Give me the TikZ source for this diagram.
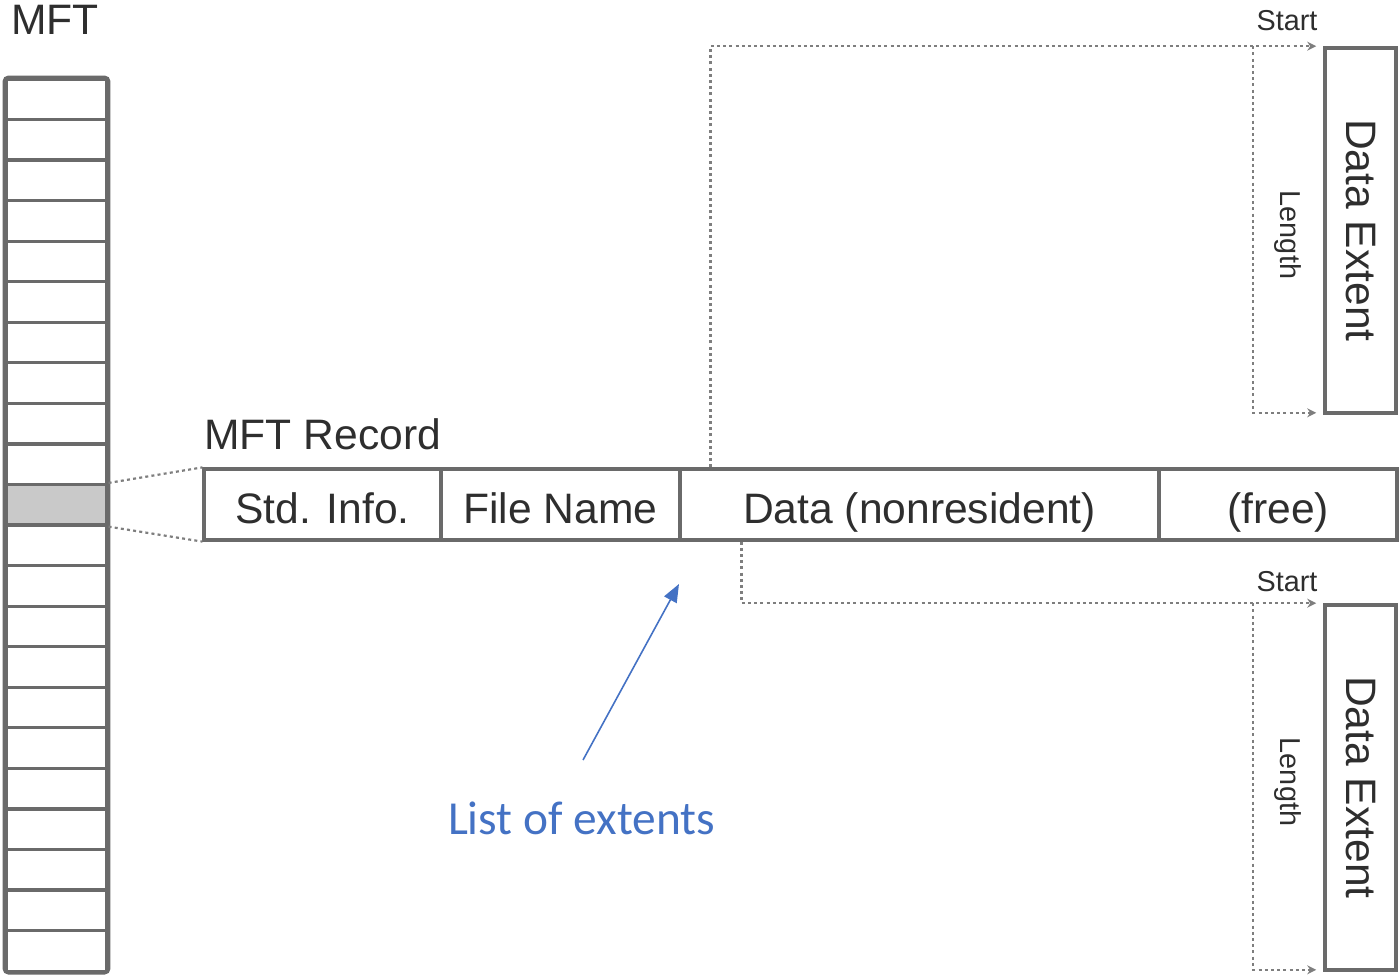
\documentclass[tikz,border=0pt]{standalone}
\usepackage{fontspec}
\setmainfont{Liberation Sans}
\newfontfamily\calib{Carlito}
\usetikzlibrary{arrows.meta,calc}
\definecolor{linegray}{HTML}{6A6A6A}
\definecolor{dotgray}{HTML}{7E7E7E}
\definecolor{txtgray}{HTML}{2E2E2E}
\definecolor{rowfill}{HTML}{C9C9C9}
\definecolor{noteblue}{HTML}{4472C4}
\tikzset{
  big/.style={font=\fontsize{21.3pt}{25pt}\selectfont, text=txtgray},
  small/.style={font=\fontsize{14.4pt}{17pt}\selectfont, text=txtgray},
  mftrow/.style={draw=linegray, line width=1.6pt, minimum width=50.5pt, minimum height=20.27pt, inner sep=0pt, fill=white},
  cell/.style={draw=linegray, line width=1.6pt, minimum height=35.5pt, inner sep=0pt, text height=18.5pt, text depth=0pt, big},
  extbox/.style={draw=linegray, line width=1.8pt, minimum width=35.5pt, minimum height=182.5pt, inner sep=0pt},
  dotline/.style={draw=dotgray, line width=1.2pt, dash pattern=on 1.5pt off 1.6pt, -{Stealth[length=4.5pt,width=4.5pt]}},
  dotplain/.style={draw=dotgray, line width=1.1pt, dash pattern=on 1.5pt off 1.6pt},
}
\begin{document}
\begin{tikzpicture}[x=0.5pt,y=-0.5pt]
\useasboundingbox (0,0) rectangle (1399,975);
% MFT column
\foreach \i in {0,...,9,11,12,...,21} {
  \node[mftrow] (row\i) at (56.5,{79+40.55*(\i+0.5)}) {};
}
\node[mftrow, fill=rowfill] (row10) at (56.5,{79+40.55*10.5}) {};
\draw[linegray, line width=1.8pt, rounded corners=2pt] (row0.north west) rectangle (row21.south east);
\node[big, anchor=center] (mft) at (55,20) {MFT};
% MFT record
\node[big, anchor=west, inner sep=0pt] (reclabel) at (204,434) {MFT Record};
\node[cell, minimum width=118.5pt] (std) at (322.5,504.5) {Std. Info.};
\node[cell, minimum width=119.5pt] (fname) at (560.5,504.5) {File Name};
\node[cell, minimum width=239.5pt] (data) at (919.5,504.5) {Data (nonresident)};
\node[cell, minimum width=119pt] (free) at (1278,504.5) {(free)};
\draw[dotplain] (row10.north east) -- (std.north west);
\draw[dotplain] (row10.south east) -- (std.south west);
% data extents
\node[extbox] (ext1) at (1360.5,230.5) {};
\node[extbox] (ext2) at (1360.5,787.5) {};
\node[big, rotate=-90] (ext1txt) at (ext1.center) {Data Extent};
\node[big, rotate=-90] (ext2txt) at (ext2.center) {Data Extent};
\node[small] (start1) at (1287,21) {Start};
\node[small] (start2) at (1287,582) {Start};
\node[small, rotate=-90] (len1) at (1288,235) {Length};
\node[small, rotate=-90] (len2) at (1288,782) {Length};
% dotted pointers
\draw[dotline] ([xshift=16pt]data.north west) |- ([xshift=-3.5pt]ext1.north west);
\draw[dotline] ([xshift=-35pt]ext1.north west) |- ([xshift=-3.5pt,yshift=1pt]ext1.south west);
\draw[dotline] ([xshift=31.5pt]data.south west) |- ([xshift=-3.5pt]ext2.north west);
\draw[dotline] ([xshift=-35pt]ext2.north west) |- ([xshift=-3.5pt,yshift=1pt]ext2.south west);
% annotation
\node[font=\calib\fontsize{23.7pt}{28pt}\selectfont, text=noteblue] (note) at (581.5,818) {List of extents};
\coordinate (notetail) at (583,760);
\coordinate (notetip) at (679,584);
\draw[noteblue, line width=0.8pt, -{Triangle[length=9pt,width=7pt]}] (notetail) -- (notetip);
\end{tikzpicture}
\end{document}
